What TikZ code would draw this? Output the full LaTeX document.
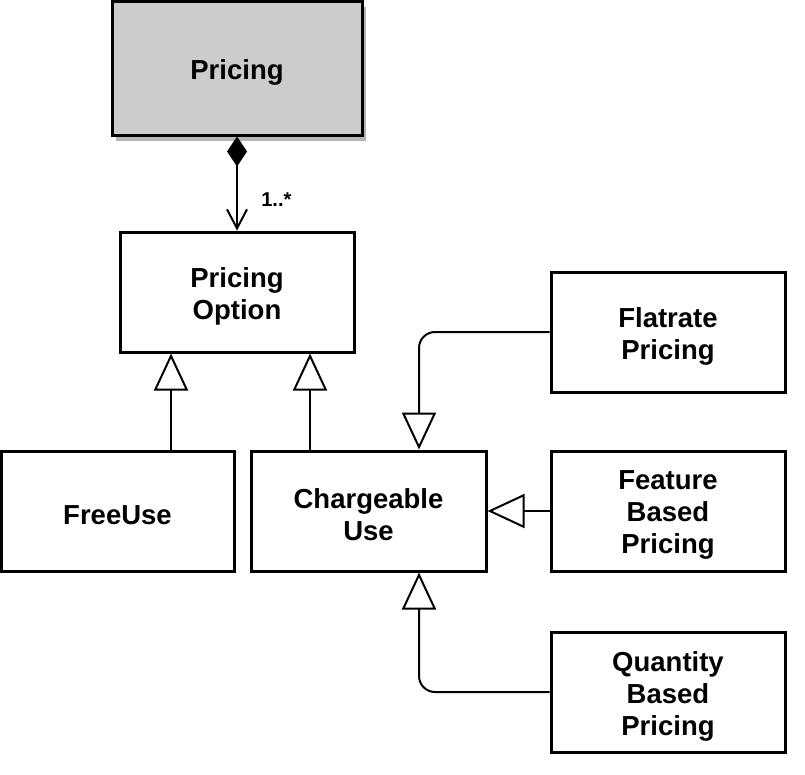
\documentclass[tikz,border=0pt]{standalone}
\usepackage{fontspec}
\setmainfont{Liberation Sans}
\usetikzlibrary{arrows.meta,shadows,calc}
\definecolor{boxgray}{RGB}{204,204,204}
\definecolor{shadowgray}{RGB}{180,180,180}
\tikzset{
  cls/.style={draw=black, line width=3pt, rectangle, inner sep=0pt,
    minimum height=120pt, minimum width=234pt},
  txt/.style={align=center, inner sep=0pt, font=\bfseries\fontsize{27.5}{32}\selectfont},
  conn/.style={draw=black, line width=2pt},
  gen/.style={conn, -{Triangle[open, width=34pt, length=37pt, line width=2pt]}},
}
\begin{document}
\begin{tikzpicture}[x=1pt,y=-1pt]
\useasboundingbox (0,0) rectangle (805,774);
\node[cls, fill=boxgray, minimum width=250pt, minimum height=134pt,
  general shadow={shadow xshift=4pt, shadow yshift=-6pt, fill=shadowgray}] (pricing) at (237,68) {};
\node[cls] (option) at (237,292) {};
\node[cls, minimum width=233pt] (free) at (117.5,511) {};
\node[cls, minimum width=235pt] (charge) at (368.5,511) {};
\node[cls] (flat) at (668,332) {};
\node[cls] (feature) at (668,511) {};
\node[cls] (quant) at (668,692) {};

\node[txt] (pricingT) at ([yshift=-4pt]pricing.center) {Pricing};
\node[txt] (optionT) at ([yshift=-4pt]option.center) {Pricing\\Option};
\node[txt] (freeT) at ([yshift=-4pt]free.center) {FreeUse};
\node[txt] (chargeT) at ([yshift=-4pt]charge.center) {Chargeable\\Use};
\node[txt] (flatT) at ([yshift=-4pt]flat.center) {Flatrate\\Pricing};
\node[txt] (featureT) at ([yshift=-4pt]feature.center) {Feature\\Based\\Pricing};
\node[txt] (quantT) at ([yshift=-4pt]quant.center) {Quantity\\Based\\Pricing};

\draw[conn, {Diamond[width=20pt, length=30pt]}-{Straight Barb[width=20pt, length=19pt, line width=2pt]}]
  (pricing.south) -- node[right, xshift=20pt, yshift=-16pt, font=\bfseries\fontsize{20}{22}\selectfont] (mult) {1..*} (option.north);

\coordinate (fa) at ([xshift=53.5pt]free.north);
\draw[gen] (fa) -- (fa |- option.south);
\coordinate (ca) at ([xshift=-58.5pt]charge.north);
\draw[gen] (ca) -- (ca |- option.south);

\draw[gen, rounded corners=16pt] (flat.west) -| ([xshift=50.5pt]charge.north);
\draw[gen] (feature.west) -- (charge.east);
\draw[gen, rounded corners=16pt] (quant.west) -| ([xshift=50.5pt]charge.south);
\end{tikzpicture}
\end{document}
